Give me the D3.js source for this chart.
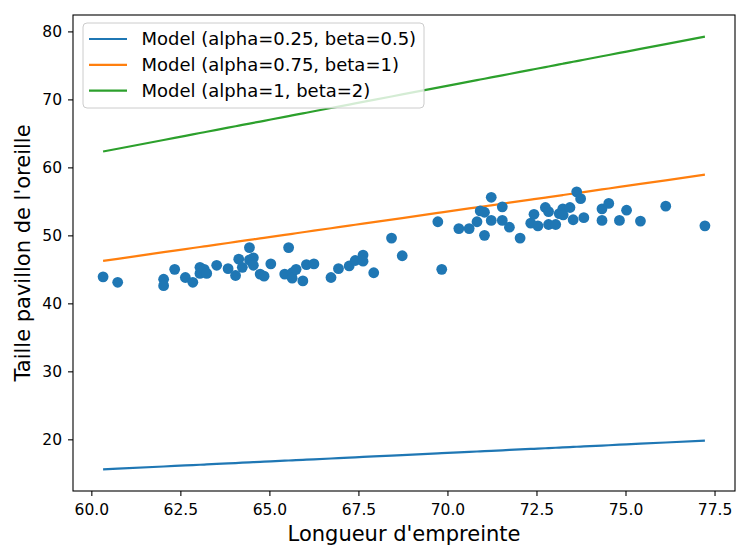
<!DOCTYPE html>
<html>
<head>
<meta charset="utf-8">
<script src="https://cdn.jsdelivr.net/npm/d3@7/dist/d3.min.js"></script>
<style>
body{margin:0;background:#fff;}
svg text{font-family:"DejaVu Sans",sans-serif;fill:#000;}
</style>
</head>
<body>
<div id="chart"></div>
<script>
// mesures (longueur d'empreinte, taille du pavillon)
var longueur = [60.33, 60.74, 62.03, 62.03, 62.34, 62.64, 62.85, 63.05, 63.05, 63.17, 63.24, 63.52,
    63.84, 64.05, 64.14, 64.24, 64.44, 64.44, 64.55, 64.55, 64.74, 64.85, 65.04, 65.43, 65.54, 65.64,
    65.64, 65.75, 65.94, 66.04, 66.25, 66.73, 66.94, 67.24, 67.41, 67.63, 67.63, 67.93, 68.43, 68.73,
    69.73, 69.84, 70.32, 70.61, 70.83, 70.92, 71.04, 71.04, 71.23, 71.23, 71.54, 71.54, 71.74, 72.04,
    72.34, 72.43, 72.54, 72.75, 72.84, 72.84, 73.04, 73.14, 73.24, 73.25, 73.44, 73.53, 73.63, 73.74,
    73.83, 74.34, 74.34, 74.53, 74.83, 75.03, 75.42, 76.13, 77.23];
var taille = [43.9, 43.1, 43.55, 42.6, 45.0, 43.8, 43.1, 45.3, 44.4, 45.0, 44.4, 45.6,
    45.1, 44.1, 46.5, 45.3, 48.2, 46.4, 46.7, 45.6, 44.3, 44.0, 45.8, 44.3, 48.2, 44.5,
    43.7, 45.0, 43.3, 45.7, 45.8, 43.8, 45.1, 45.5, 46.3, 47.1, 46.2, 44.5, 49.6, 47.0,
    52.0, 45.0, 51.0, 51.0, 52.0, 53.6, 53.4, 50.0, 55.6, 52.2, 54.2, 52.2, 51.2, 49.6,
    51.8, 53.1, 51.4, 54.1, 53.5, 51.6, 51.6, 53.2, 53.9, 53.0, 54.1, 52.3, 56.4, 55.4,
    52.6, 53.9, 52.2, 54.7, 52.2, 53.7, 52.1, 54.3, 51.4];

var model_alpha = [0.25, 0.75, 1];
var model_beta = [0.5, 1, 2];
var model_colors = ['#1f77b4', '#ff7f0e', '#2ca02c'];
var point_color = '#1f77b4';

var x_ticks = [60, 62.5, 65, 67.5, 70, 72.5, 75, 77.5];
var y_ticks = [20, 30, 40, 50, 60, 70, 80];

var width = 737, height = 545;
var margin = {left: 73, right: 2, top: 15, bottom: 54};
var w = width - margin.left - margin.right;
var h = height - margin.top - margin.bottom;

var svg = d3.select('#chart').append('svg').attr('width', width).attr('height', height);
var g = svg.append('g').attr('transform', 'translate(' + margin.left + ',' + margin.top + ')');

// y = alpha * x + beta
var model_values = model_alpha.map((a, i) => longueur.map(x => a * x + model_beta[i]));

// limites avec 5% de marge, comme matplotlib
function pad(ext) {
    var r = ext[1] - ext[0];
    return [ext[0] - 0.05 * r, ext[1] + 0.05 * r];
}
var all_y = taille.concat(...model_values);
var x_scale = d3.scaleLinear().domain(pad(d3.extent(longueur))).range([0, w]);
var y_scale = d3.scaleLinear().domain(pad(d3.extent(all_y))).range([h, 0]);

var x_axis = g.append('g').attr('transform', 'translate(0,' + h + ')')
    .call(d3.axisBottom(x_scale).tickValues(x_ticks).tickFormat(d3.format('.1f'))
        .tickSize(5).tickPadding(8));
var y_axis = g.append('g')
    .call(d3.axisLeft(y_scale).tickValues(y_ticks).tickFormat(d3.format('d'))
        .tickSize(5).tickPadding(6));
[x_axis, y_axis].forEach(a => {
    a.select('.domain').remove();
    a.selectAll('.tick line').attr('stroke', '#000').attr('stroke-width', 1.1);
    a.selectAll('.tick text').style('font-size', '15.5px').attr('font-family', null);
});

var line = d3.line().x(d => x_scale(d[0])).y(d => y_scale(d[1]));
model_values.forEach((vals, i) => {
    g.append('path')
        .datum(longueur.map((x, k) => [x, vals[k]]))
        .attr('d', line)
        .attr('fill', 'none')
        .attr('stroke', model_colors[i])
        .attr('stroke-width', 2.2);
});

g.selectAll('.pt').data(longueur).enter().append('circle')
    .attr('class', 'pt')
    .attr('cx', d => x_scale(d))
    .attr('cy', (d, k) => y_scale(taille[k]))
    .attr('r', 5.4)
    .attr('fill', point_color);

g.append('rect').attr('width', w).attr('height', h)
    .attr('fill', 'none').attr('stroke', '#000').attr('stroke-width', 1.1);

// legende
var legend = g.append('g').attr('transform', 'translate(10,8)');
legend.append('rect').attr('width', 341).attr('height', 85).attr('rx', 4)
    .attr('fill', '#fff').attr('fill-opacity', 0.8).attr('stroke', '#cccccc');
model_alpha.forEach((a, i) => {
    var yy = 16 + i * 25.8;
    legend.append('line').attr('x1', 6).attr('x2', 44).attr('y1', yy).attr('y2', yy)
        .attr('stroke', model_colors[i]).attr('stroke-width', 2.2);
    legend.append('text').attr('x', 58.5).attr('y', yy).attr('dy', '0.35em')
        .style('font-size', '18px')
        .text('Model (alpha=' + a + ', beta=' + model_beta[i] + ')');
});

svg.append('text').attr('x', margin.left + w / 2).attr('y', 541)
    .attr('text-anchor', 'middle').style('font-size', '21px').text("Longueur d'empreinte");
svg.append('text').attr('transform', 'translate(30,' + (margin.top + h / 2) + ') rotate(-90)')
    .attr('text-anchor', 'middle').style('font-size', '21px').text("Taille pavillon de l'oreille");
</script>
</body>
</html>
